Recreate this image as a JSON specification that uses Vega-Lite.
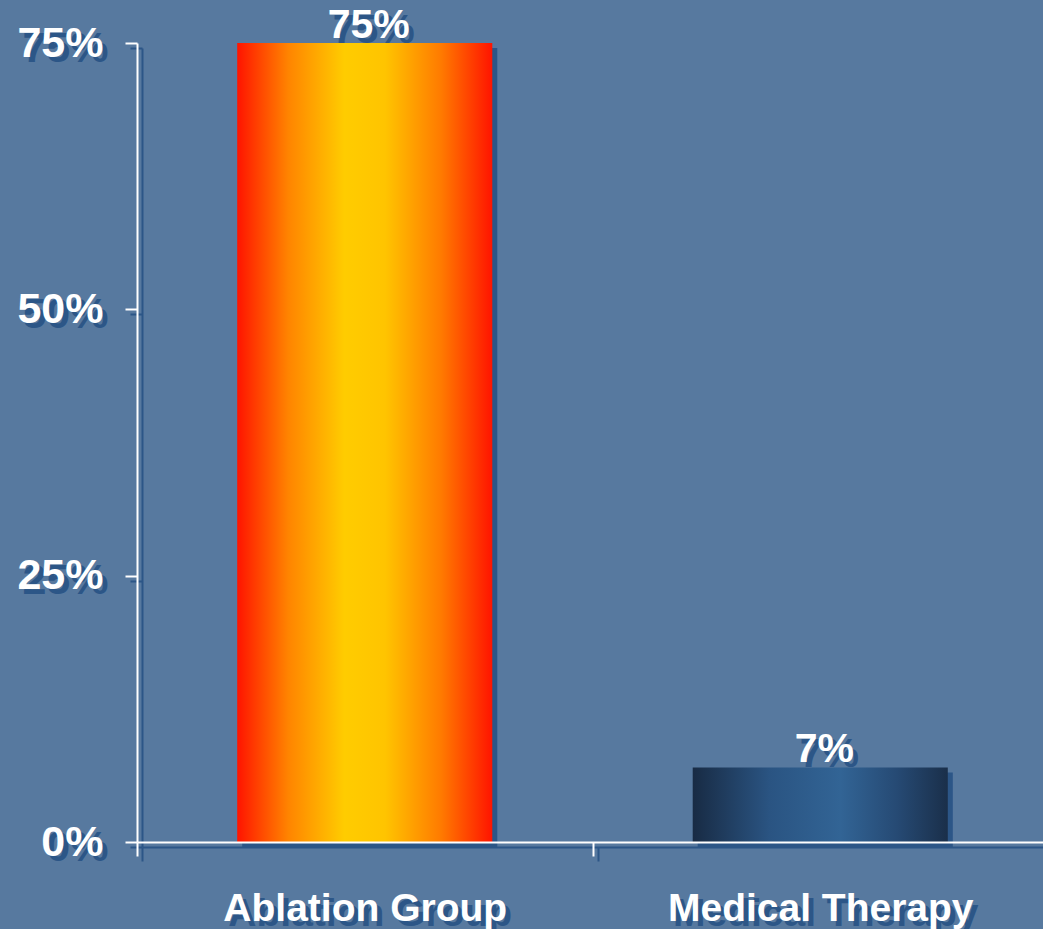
{
  "$schema": "https://vega.github.io/schema/vega-lite/v6.json",
  "autosize": "none",
  "padding": {"left": 137, "top": 43, "right": 0, "bottom": 87},
  "width": 911,
  "height": 799,
  "background": "#57799f",
  "config": {
    "view": {"stroke": null},
    "font": "Liberation Sans"
  },
  "data": {
    "values": [
      {"group": "Ablation Group", "rate": 0.75},
      {"group": "Medical Therapy", "rate": 0.07}
    ]
  },
  "resolve": {"axis": {"x": "independent", "y": "independent"}},
  "layer": [
    {
      "mark": {"type": "bar", "color": "#2c5687", "xOffset": 5, "yOffset": 5, "width": {"band": 0.56}},
      "encoding": {
        "x": {
          "field": "group", "type": "nominal", "sort": null,
          "scale": {"paddingInner": 0, "paddingOuter": 0},
          "axis": {
            "orient": "bottom", "title": null, "translate": 5.5, "zindex": 0,
            "tickBand": "extent", "tickSize": 14, "tickWidth": 2, "tickColor": "#2c5687",
            "domainColor": "#2c5687", "domainWidth": 2,
            "labelColor": "#2c5687", "labelFontSize": 39, "labelFontWeight": "bold",
            "labelPadding": 64, "labelBaseline": "alphabetic", "labelAngle": 0,
            "labelLimit": 0, "labelOverlap": false
          }
        },
        "y": {
          "field": "rate", "type": "quantitative",
          "scale": {"domain": [0, 0.75], "nice": false},
          "axis": {
            "orient": "left", "title": null, "translate": 5.5, "zindex": 0,
            "values": [0, 0.25, 0.5, 0.75], "format": ".0%", "grid": false,
            "tickSize": 12, "tickWidth": 2, "tickColor": "#2c5687",
            "domainColor": "#2c5687", "domainWidth": 2,
            "labelColor": "#2c5687", "labelFontSize": 43, "labelFontWeight": "bold",
            "labelPadding": 22
          }
        }
      }
    },
    {
      "transform": [{"filter": "datum.group === 'Ablation Group'"}],
      "mark": {
        "type": "bar", "width": {"band": 0.56},
        "fill": {
          "gradient": "linear", "x1": 0, "x2": 1, "y1": 0, "y2": 0,
          "stops": [
            {"offset": 0, "color": "#ff1400"},
            {"offset": 0.2, "color": "#ff8400"},
            {"offset": 0.42, "color": "#ffcc00"},
            {"offset": 0.58, "color": "#ffc400"},
            {"offset": 0.8, "color": "#ff7a00"},
            {"offset": 1, "color": "#ff1400"}
          ]
        }
      },
      "encoding": {
        "x": {"field": "group", "type": "nominal", "sort": null, "axis": null},
        "y": {"field": "rate", "type": "quantitative", "axis": null}
      }
    },
    {
      "transform": [{"filter": "datum.group === 'Medical Therapy'"}],
      "mark": {
        "type": "bar", "width": {"band": 0.56},
        "fill": {
          "gradient": "linear", "x1": 0, "x2": 1, "y1": 0, "y2": 0,
          "stops": [
            {"offset": 0, "color": "#182b44"},
            {"offset": 0.3, "color": "#2a5482"},
            {"offset": 0.58, "color": "#326495"},
            {"offset": 0.8, "color": "#264a74"},
            {"offset": 1, "color": "#1a2f4a"}
          ]
        }
      },
      "encoding": {
        "x": {"field": "group", "type": "nominal", "sort": null, "axis": null},
        "y": {"field": "rate", "type": "quantitative", "axis": null}
      }
    },
    {
      "mark": {
        "type": "text", "color": "#2c5687", "fontSize": 41, "fontWeight": "bold",
        "baseline": "alphabetic", "dx": 9, "dy": 0
      },
      "encoding": {
        "x": {"field": "group", "type": "nominal", "sort": null, "axis": null},
        "y": {"field": "rate", "type": "quantitative", "axis": null},
        "text": {"field": "rate", "type": "quantitative", "format": ".0%"}
      }
    },
    {
      "mark": {
        "type": "text", "color": "white", "fontSize": 41, "fontWeight": "bold",
        "baseline": "alphabetic", "dx": 4, "dy": -5
      },
      "encoding": {
        "x": {
          "field": "group", "type": "nominal", "sort": null,
          "axis": {
            "orient": "bottom", "title": null, "translate": 0.5, "zindex": 1,
            "tickBand": "extent", "tickSize": 14, "tickWidth": 2, "tickColor": "white",
            "domainColor": "white", "domainWidth": 2,
            "labelColor": "white", "labelFontSize": 39, "labelFontWeight": "bold",
            "labelPadding": 64, "labelBaseline": "alphabetic", "labelAngle": 0,
            "labelLimit": 0, "labelOverlap": false
          }
        },
        "y": {
          "field": "rate", "type": "quantitative",
          "axis": {
            "orient": "left", "title": null, "translate": 0.5, "zindex": 1,
            "values": [0, 0.25, 0.5, 0.75], "format": ".0%", "grid": false,
            "tickSize": 12, "tickWidth": 2, "tickColor": "white",
            "domainColor": "white", "domainWidth": 2,
            "labelColor": "white", "labelFontSize": 43, "labelFontWeight": "bold",
            "labelPadding": 22
          }
        },
        "text": {"field": "rate", "type": "quantitative", "format": ".0%"}
      }
    }
  ]
}
